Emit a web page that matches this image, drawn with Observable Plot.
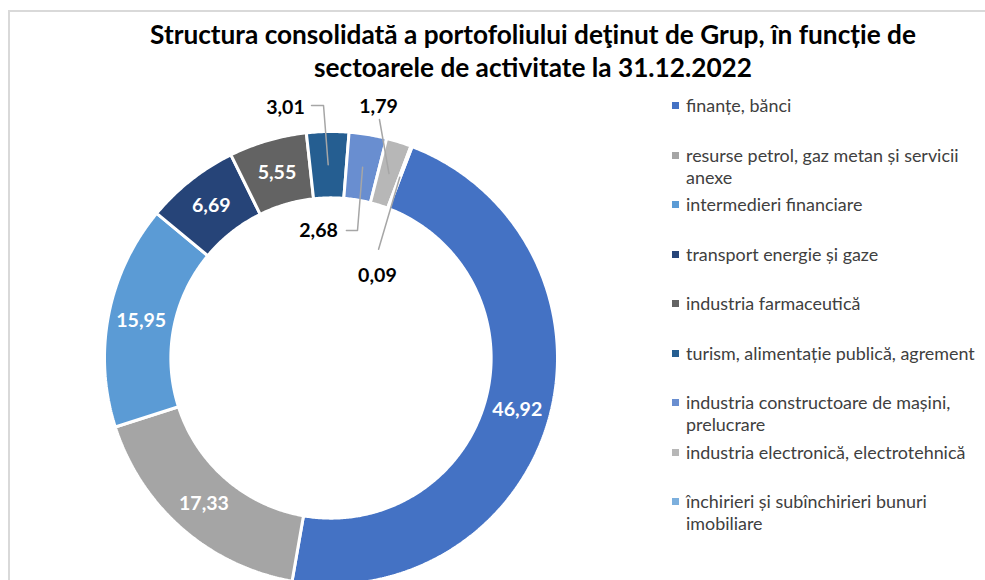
<!DOCTYPE html>
<html>
<head>
<meta charset="utf-8">
<script src="https://cdn.jsdelivr.net/npm/d3@7"></script>
<script src="https://cdn.jsdelivr.net/npm/@observablehq/plot@0.6"></script>
<style>
  body { margin: 0; background: #fff; }
  #wrap { position: relative; width: 985px; height: 580px; overflow: hidden; font-family: Lato, "Open Sans", sans-serif; }
  #frame { position: absolute; left: 8px; top: 10px; width: 1000px; height: 620px; border-left: 2px solid #d9d9d9; border-top: 2px solid #d9d9d9; box-sizing: border-box; }
  #chart { position: absolute; left: 0; top: 0; }
  #title { position: absolute; left: 0; width: 1066px; top: 18px; text-align: center; font-weight: bold; color: #000; line-height: 33px; white-space: nowrap; }
  .leg { position: absolute; left: 672px; color: #404040; white-space: pre-line; line-height: 22px; }
  .leg .sw { position: absolute; left: 0; top: 8px; width: 7px; height: 7px; }
  .leg .tx { position: absolute; left: 14px; top: 0; white-space: pre; }
</style>
</head>
<body>
<div id="wrap">
  <div id="frame"></div>
  <div id="chart"></div>
  <div id="title"></div>
  <div id="legend"></div>
</div>
<script>
// ---- data ----
const titleLines = ["Structura consolidată a portofoliului deţinut de Grup, în funcție de", "sectoarele de activitate la 31.12.2022"];
const categories = [
  "finanțe, bănci",
  "resurse petrol, gaz metan și servicii\nanexe",
  "intermedieri financiare",
  "transport energie și gaze",
  "industria farmaceutică",
  "turism, alimentație publică, agrement",
  "industria constructoare de mașini,\nprelucrare",
  "industria electronică, electrotehnică",
  "închirieri și subînchirieri bunuri\nimobiliare"
];
const values = [46.92, 17.33, 15.95, 6.69, 5.55, 3.01, 2.68, 1.79, 0.09];
const colors = ["#4472C4", "#A5A5A5", "#5B9BD5", "#264478", "#636363", "#255E91", "#698ED0", "#B7B7B7", "#7CAFDD"];

// ---- layout ----
const cx = 330.5, cy = 357.5, R = 226.5;
const innerRatio = 0.707;
const startDeg = 21;
const fontFamily = "Lato, 'Open Sans', sans-serif";
// callouts for small slices (normalized coordinates, radius = 1)
const callouts = {
  5: { text: [-0.201, 1.106], path: [[-0.086, 1.115], [-0.033, 1.115]] },
  6: { text: [-0.055, 0.563], path: [[0.068, 0.563], [0.117, 0.563]] },
  7: { text: [0.210, 1.108], path: [[0.214, 1.053]] },
  8: { text: [0.205, 0.362], path: [[0.210, 0.480]] }
};

function fitSize(text, weight, target) {
  const ctx = document.createElement("canvas").getContext("2d");
  ctx.font = `${weight} 100px ${fontFamily}`;
  return 100 * target / ctx.measureText(text).width;
}
const titleSize = fitSize(titleLines[0], "bold", 766);
const legendSize = fitSize(categories[5], "normal", 289);
const labelSize = fitSize("46,92", "bold", 50);

// ---- geometry ----
const total = d3.sum(values);
const rad = Math.PI / 180;
let acc = startDeg * rad;
const slices = values.map((v, i) => {
  const a0 = acc, a1 = acc + v / total * 2 * Math.PI;
  acc = a1;
  return { i, name: categories[i], value: v, a0, a1, mid: (a0 + a1) / 2 };
});
const slicePts = [];
for (const s of slices) {
  const n = Math.max(2, Math.ceil((s.a1 - s.a0) / (0.5 * rad)) + 1);
  const pts = [];
  for (let k = 0; k < n; k++) { const a = s.a0 + (s.a1 - s.a0) * k / (n - 1); pts.push([Math.sin(a), Math.cos(a)]); }
  for (let k = n - 1; k >= 0; k--) { const a = s.a0 + (s.a1 - s.a0) * k / (n - 1); pts.push([innerRatio * Math.sin(a), innerRatio * Math.cos(a)]); }
  pts.push(pts[0]);
  for (const [x, y] of pts) slicePts.push({ name: s.name, x, y });
}
const midR = (1 + innerRatio) / 2;
const fmt = v => v.toFixed(2).replace(".", ",");
const labels = slices.map(s => {
  const c = callouts[s.i];
  const cxn = midR * Math.sin(s.mid), cyn = midR * Math.cos(s.mid);
  return { name: s.name, text: fmt(s.value), x: c ? c.text[0] : cxn, y: c ? c.text[1] : cyn, outside: !!c, cxn, cyn };
});
const leaderPts = [];
for (const l of labels) {
  const s = slices.find(d => d.name === l.name);
  const c = callouts[s.i];
  if (!c) continue;
  for (const [x, y] of c.path) leaderPts.push({ name: l.name, x, y });
  leaderPts.push({ name: l.name, x: l.cxn, y: l.cyn });
}

const chart = Plot.plot({
  width: 985, height: 580, margin: 0,
  style: { background: "transparent", overflow: "hidden" },
  x: { domain: [-1, 1], range: [cx - R, cx + R], axis: null },
  y: { domain: [-1, 1], range: [cy + R, cy - R], axis: null },
  color: { domain: categories, range: colors },
  marks: [
    Plot.line(slicePts, { x: "x", y: "y", z: "name", fill: "name", stroke: "white", strokeWidth: 3, strokeLinejoin: "miter" }),
    Plot.line(leaderPts, { x: "x", y: "y", z: "name", stroke: "#a6a6a6", strokeWidth: 1.5 }),
    Plot.text(labels, { x: "x", y: "y", text: "text", fill: d => d.outside ? "#000000" : "#ffffff", fontWeight: "bold", fontSize: labelSize, fontFamily })
  ]
});
document.getElementById("chart").appendChild(chart);

// ---- title ----
const t = document.getElementById("title");
t.style.fontSize = titleSize + "px";
t.innerHTML = titleLines.map(s => `<div>${s}</div>`).join("");

// ---- legend ----
const leg = document.getElementById("legend");
categories.forEach((c, i) => {
  const d = document.createElement("div");
  d.className = "leg";
  d.style.top = (94 + i * 49.5) + "px";
  d.style.fontSize = legendSize + "px";
  d.innerHTML = `<div class="sw" style="background:${colors[i]}"></div><div class="tx">${c}</div>`;
  leg.appendChild(d);
});
</script>
</body>
</html>
